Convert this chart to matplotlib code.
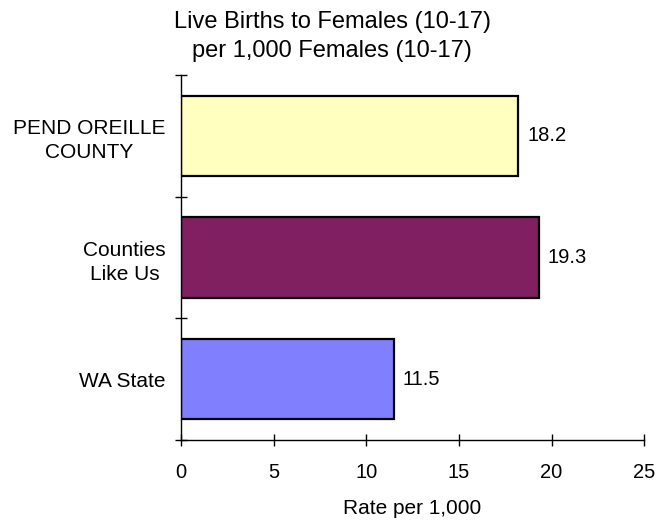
import matplotlib
matplotlib.use("Agg")
import matplotlib.pyplot as plt

# rates per 1,000 females aged 10-17
groups = ["PEND OREILLE\nCOUNTY", "Counties\nLike Us", "WA State"]
rates = [18.2, 19.3, 11.5]
bar_colors = ["#FFFFC0", "#802060", "#8080FF"]
xticks = [0, 5, 10, 15, 20, 25]

plt.rcParams["font.family"] = ["Liberation Sans", "DejaVu Sans"]

fig = plt.figure(figsize=(6.58, 5.21), dpi=100)
ax = fig.add_axes([0.275, 0.1555, 0.704, 0.7005])

pos = list(range(len(groups)))[::-1]
ax.barh(pos, rates, height=0.66, color=bar_colors, edgecolor="black", linewidth=1.6)

for p, r in zip(pos, rates):
    ax.text(r + 0.48, p, f"{r:.1f}", va="center", ha="left", fontsize=14.5)

ax.set_xlim(0, 25)
ax.set_ylim(-0.5, 2.5)
ax.set_xticks(xticks)
ax.set_xticklabels([str(t) for t in xticks], fontsize=14.5)
ax.set_yticks([-0.5, 0.5, 1.5, 2.5], minor=False)
ax.set_yticklabels([])
ax.set_yticks(pos, minor=True)
ax.set_yticklabels(groups, minor=True, fontsize=15, multialignment="center",
                   linespacing=1.35)
ax.tick_params(axis="y", which="minor", length=0, pad=11)
ax.tick_params(axis="both", which="major", direction="inout", length=9, width=1)
ax.tick_params(axis="x", pad=12)

for s in ["top", "right"]:
    ax.spines[s].set_visible(False)
ax.spines["left"].set_linewidth(1)
ax.spines["bottom"].set_linewidth(1)

ax.set_xlabel("Rate per 1,000", fontsize=15, labelpad=12)
fig.text(0.505, 0.978, "Live Births to Females (10-17)\nper 1,000 Females (10-17)",
         ha="center", va="top", fontsize=17, linespacing=1.4)

fig.savefig("out.png", dpi=100)
